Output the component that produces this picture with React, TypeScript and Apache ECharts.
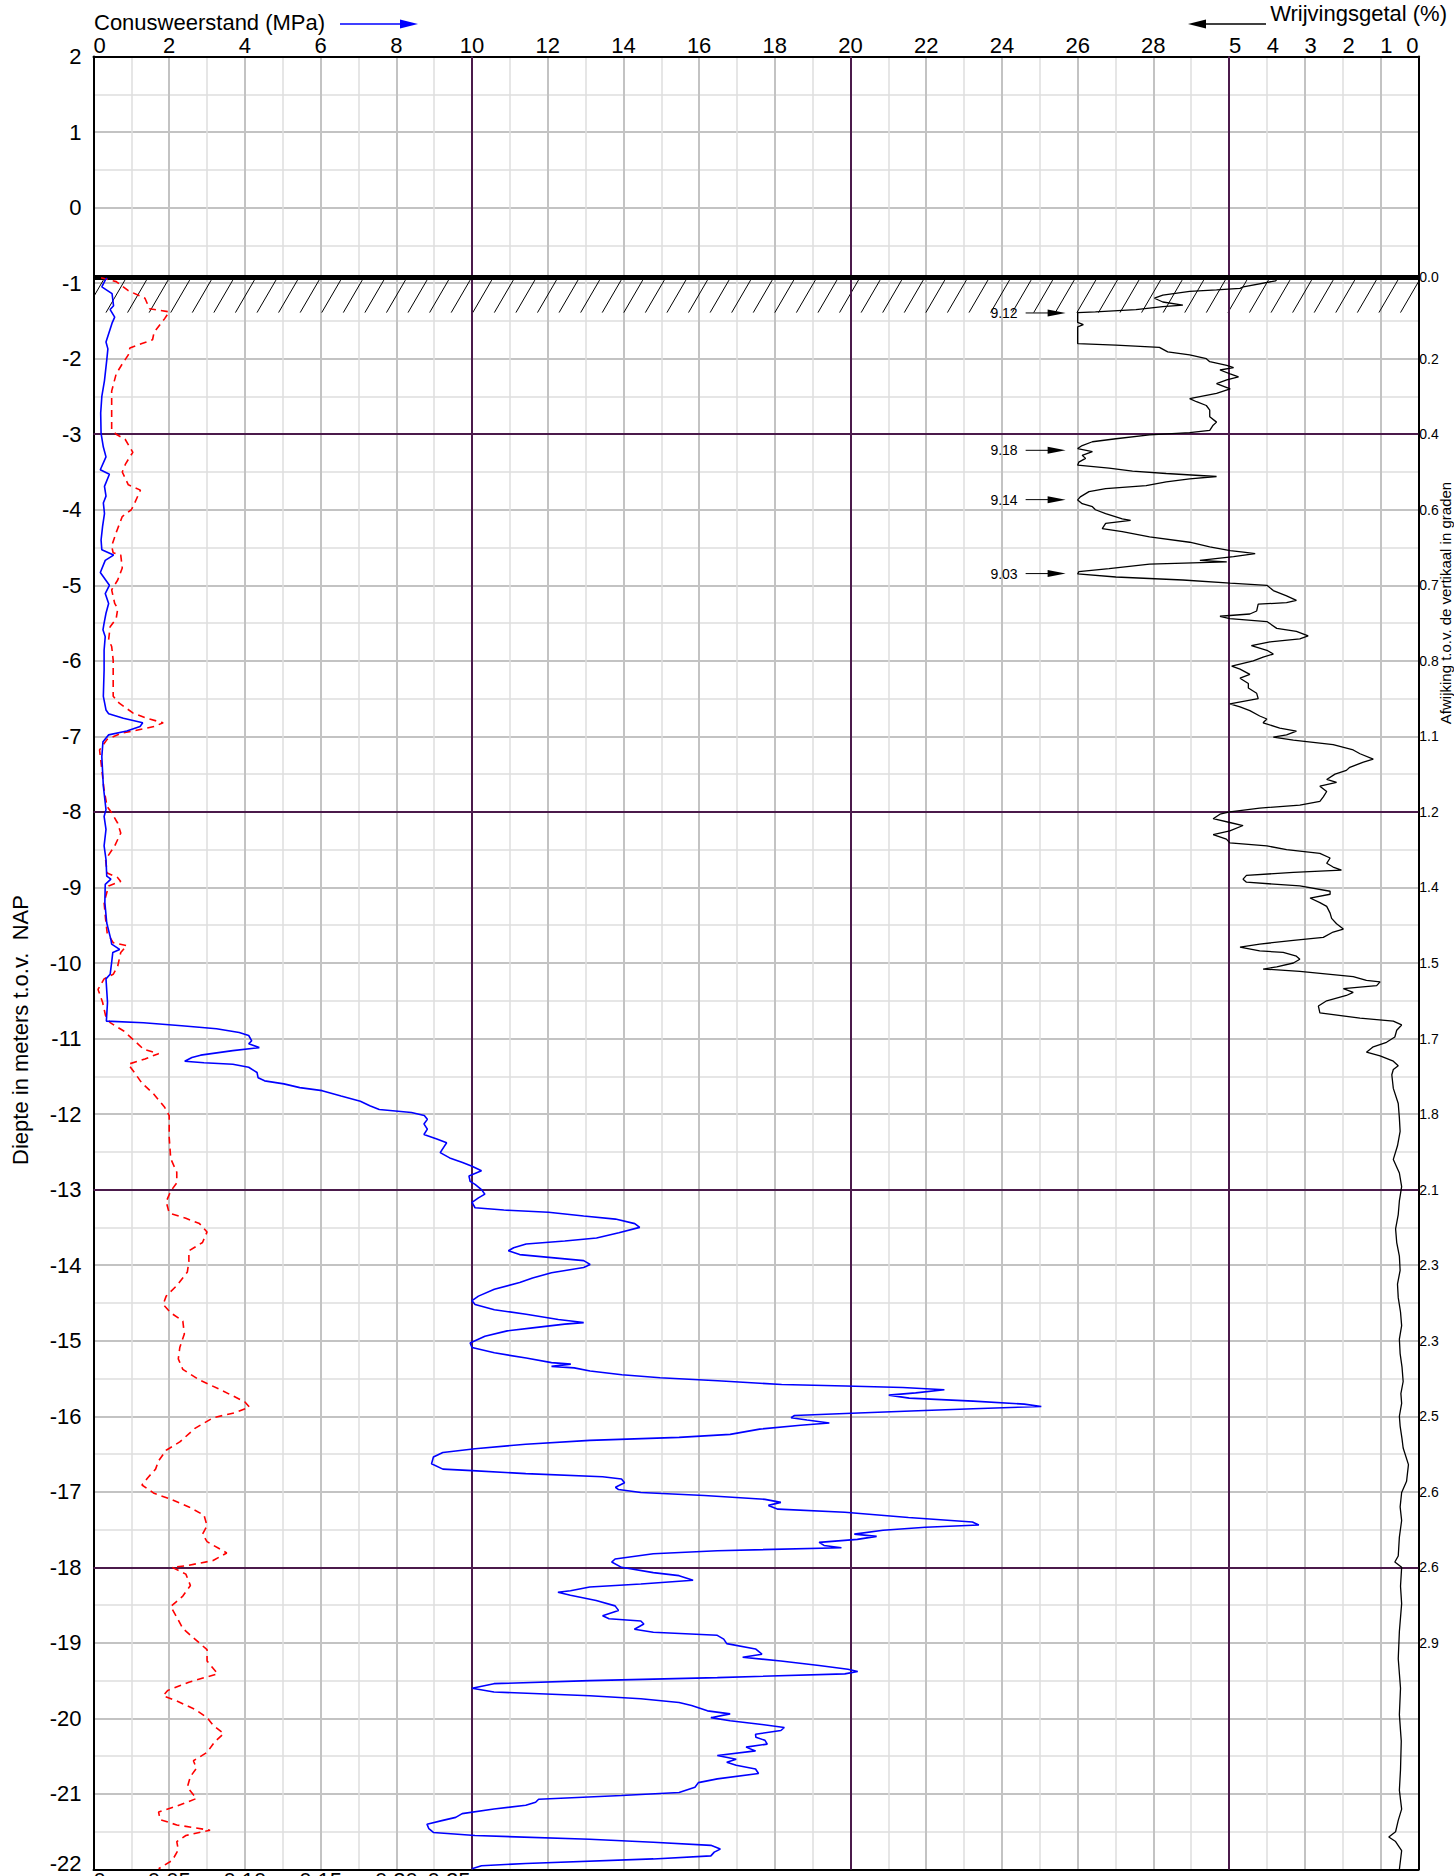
import React, { useEffect, useRef } from 'react';
import * as echarts from 'echarts';

const FONT = '"Liberation Sans", Arial, Helvetica, sans-serif';

// ---------- axis ticks / labels ----------
const coneTickLabels = [0, 2, 4, 6, 8, 10, 12, 14, 16, 18, 20, 22, 24, 26, 28];
const ratioTickLabels = [0, 1, 2, 3, 4, 5];
const sleeveTickLabels = [0, 0.05, 0.1, 0.15, 0.2, 0.25];
const inclinationDepths = [-0.92, -2, -3, -4, -5, -6, -7, -8, -9, -10, -11, -12, -13, -14, -15, -16, -17, -18, -19];
const inclinationLabels = ['0.0', '0.2', '0.4', '0.6', '0.7', '0.8', '1.1', '1.2', '1.4', '1.5', '1.7', '1.8', '2.1', '2.3', '2.3', '2.5', '2.6', '2.6', '2.9'];
const referenceDepths = [-3, -8, -13, -18];
const referenceCone = [10, 20, 30];
const groundLevel = -0.92;
const hatchTopDepth = -0.96;
const hatchBottomDepth = -1.39;
const RF_CLIP = 9;

// ---------- series: [depth (m NAP), value] ----------
const coneResistance: [number, number][] = [
  [-0.93, 0.35], [-0.96, 0.31], [-1.05, 0.22], [-1.14, 0.49], [-1.3, 0.53], [-1.35, 0.44], [-1.45, 0.56], [-1.53, 0.49],
  [-1.78, 0.33], [-1.87, 0.38], [-2.02, 0.35], [-2.29, 0.29], [-2.5, 0.22], [-2.72, 0.19], [-2.99, 0.2], [-3.17, 0.26],
  [-3.3, 0.33], [-3.47, 0.18], [-3.53, 0.42], [-3.69, 0.29], [-3.82, 0.33], [-3.91, 0.26], [-4.05, 0.29], [-4.22, 0.24],
  [-4.4, 0.2], [-4.53, 0.22], [-4.6, 0.53], [-4.67, 0.31], [-4.83, 0.18], [-4.95, 0.35], [-5.0, 0.42], [-5.11, 0.31],
  [-5.24, 0.4], [-5.37, 0.33], [-5.5, 0.28], [-5.59, 0.25], [-5.68, 0.31], [-5.86, 0.28], [-6.12, 0.28], [-6.47, 0.26],
  [-6.65, 0.33], [-6.7, 0.4], [-6.76, 0.79], [-6.82, 1.3], [-6.87, 1.23], [-6.93, 0.88], [-6.98, 0.4], [-7.07, 0.25],
  [-7.27, 0.22], [-7.66, 0.26], [-7.97, 0.33], [-8.06, 0.28], [-8.23, 0.33], [-8.45, 0.28], [-8.63, 0.33], [-8.85, 0.35],
  [-8.89, 0.46], [-8.96, 0.31], [-9.2, 0.3], [-9.47, 0.35], [-9.69, 0.46], [-9.75, 0.48], [-9.82, 0.69], [-9.86, 0.51],
  [-9.99, 0.48], [-10.15, 0.44], [-10.21, 0.33], [-10.52, 0.37], [-10.77, 0.34], [-10.79, 1.32], [-10.83, 2.33],
  [-10.87, 3.25], [-10.92, 3.85], [-10.96, 4.1], [-11.03, 4.18], [-11.07, 4.1], [-11.12, 4.38], [-11.16, 3.68],
  [-11.22, 2.83], [-11.25, 2.6], [-11.3, 2.41], [-11.32, 2.92], [-11.34, 3.68], [-11.38, 4.1], [-11.45, 4.32],
  [-11.52, 4.35], [-11.56, 4.52], [-11.6, 5.03], [-11.65, 5.45], [-11.69, 6.04], [-11.76, 6.54], [-11.83, 7.05],
  [-11.89, 7.3], [-11.94, 7.55], [-11.98, 8.4], [-12.02, 8.74], [-12.07, 8.82], [-12.13, 8.73], [-12.2, 8.82],
  [-12.27, 8.73], [-12.33, 9.07], [-12.38, 9.33], [-12.44, 9.25], [-12.51, 9.16], [-12.58, 9.41], [-12.64, 9.75],
  [-12.69, 10.0], [-12.75, 10.25], [-12.82, 9.92], [-12.89, 9.95], [-12.93, 10.08], [-13.0, 10.25], [-13.06, 10.34],
  [-13.11, 10.17], [-13.17, 10.0], [-13.24, 10.08], [-13.27, 10.84], [-13.3, 12.02], [-13.35, 12.95], [-13.39, 13.79],
  [-13.45, 14.3], [-13.5, 14.43], [-13.57, 13.88], [-13.64, 13.29], [-13.68, 12.45], [-13.72, 11.43], [-13.77, 11.1],
  [-13.81, 10.96], [-13.86, 11.26], [-13.9, 12.1], [-13.94, 12.95], [-13.99, 13.12], [-14.03, 12.95], [-14.1, 12.1],
  [-14.17, 11.6], [-14.23, 11.26], [-14.32, 10.59], [-14.41, 10.17], [-14.47, 10.0], [-14.52, 10.08], [-14.59, 10.59],
  [-14.65, 11.43], [-14.72, 12.28], [-14.76, 12.95], [-14.78, 12.45], [-14.83, 11.6], [-14.87, 10.93], [-14.94, 10.34],
  [-15.03, 9.95], [-15.09, 10.0], [-15.16, 10.59], [-15.23, 11.43], [-15.29, 12.1], [-15.31, 12.61], [-15.34, 12.1],
  [-15.36, 12.7], [-15.4, 13.12], [-15.45, 13.96], [-15.49, 14.97], [-15.53, 16.49], [-15.58, 18.18], [-15.6, 19.87],
  [-15.62, 21.38], [-15.65, 22.48], [-15.69, 21.72], [-15.72, 21.01], [-15.76, 21.55], [-15.8, 23.24], [-15.84, 24.59],
  [-15.87, 25.04], [-15.9, 23.24], [-15.93, 21.6], [-15.96, 20.03], [-15.99, 18.52], [-16.02, 18.43], [-16.05, 18.85],
  [-16.09, 19.44], [-16.12, 18.68], [-16.17, 17.6], [-16.24, 16.82], [-16.28, 15.47], [-16.32, 13.11], [-16.37, 11.42],
  [-16.43, 10.08], [-16.48, 9.23], [-16.54, 8.98], [-16.63, 8.93], [-16.7, 9.23], [-16.72, 10.0], [-16.76, 11.42],
  [-16.8, 13.45], [-16.83, 13.95], [-16.88, 14.03], [-16.94, 13.79], [-16.97, 13.87], [-17.01, 14.46], [-17.05, 16.14],
  [-17.1, 17.74], [-17.14, 18.16], [-17.18, 17.83], [-17.23, 18.08], [-17.27, 19.85], [-17.34, 21.53], [-17.4, 23.22],
  [-17.44, 23.39], [-17.47, 21.98], [-17.51, 20.86], [-17.56, 20.1], [-17.59, 20.69], [-17.63, 20.18], [-17.67, 19.17],
  [-17.71, 19.3], [-17.74, 19.76], [-17.78, 16.48], [-17.82, 14.79], [-17.89, 13.78], [-17.93, 13.69], [-18.0, 13.95],
  [-18.07, 14.79], [-18.11, 15.47], [-18.17, 15.84], [-18.22, 14.46], [-18.26, 13.11], [-18.31, 12.6], [-18.33, 12.27],
  [-18.37, 12.6], [-18.44, 13.28], [-18.51, 13.78], [-18.57, 13.87], [-18.64, 13.45], [-18.68, 13.62], [-18.71, 14.46],
  [-18.75, 14.54], [-18.82, 14.29], [-18.86, 14.79], [-18.9, 16.48], [-18.95, 16.65], [-19.01, 16.73], [-19.08, 17.49],
  [-19.15, 17.66], [-19.19, 17.15], [-19.24, 18.16], [-19.3, 19.17], [-19.35, 19.93], [-19.38, 20.19], [-19.41, 19.85],
  [-19.46, 16.48], [-19.5, 13.11], [-19.54, 10.58], [-19.6, 10.0], [-19.65, 10.58], [-19.7, 13.11], [-19.74, 14.46],
  [-19.79, 15.47], [-19.83, 15.8], [-19.9, 16.22], [-19.94, 16.82], [-19.99, 16.31], [-20.03, 16.82], [-20.07, 17.49],
  [-20.12, 18.25], [-20.16, 18.16], [-20.21, 17.49], [-20.25, 17.5], [-20.29, 17.74], [-20.34, 17.8], [-20.38, 17.24],
  [-20.43, 17.49], [-20.49, 16.48], [-20.54, 16.98], [-20.58, 16.73], [-20.62, 16.98], [-20.67, 17.49], [-20.73, 17.57],
  [-20.8, 16.48], [-20.85, 15.98], [-20.91, 15.89], [-20.98, 15.47], [-21.02, 13.95], [-21.07, 11.76], [-21.11, 11.68],
  [-21.15, 11.42], [-21.2, 10.58], [-21.26, 9.74], [-21.31, 9.57], [-21.35, 9.23], [-21.4, 8.81], [-21.46, 8.86],
  [-21.51, 8.98], [-21.55, 10.08], [-21.6, 13.11], [-21.64, 14.79], [-21.68, 16.31], [-21.73, 16.56], [-21.77, 16.4],
  [-21.82, 16.31], [-21.86, 14.79], [-21.92, 11.42], [-21.95, 10.25], [-21.99, 10.0],
];

// local sleeve friction (MPa)
const sleeveFriction: [number, number][] = [
  [-0.93, 0.005], [-0.98, 0.015], [-1.1, 0.023], [-1.2, 0.034], [-1.34, 0.037], [-1.38, 0.05], [-1.47, 0.047],
  [-1.65, 0.04], [-1.75, 0.039], [-1.8, 0.032], [-1.86, 0.024], [-1.95, 0.023], [-2.07, 0.019], [-2.2, 0.015],
  [-2.43, 0.012], [-2.7, 0.012], [-2.94, 0.012], [-3.0, 0.015], [-3.07, 0.021], [-3.24, 0.026], [-3.3, 0.024],
  [-3.4, 0.021], [-3.5, 0.019], [-3.67, 0.023], [-3.74, 0.031], [-3.92, 0.027], [-4.0, 0.025], [-4.09, 0.019],
  [-4.3, 0.015], [-4.48, 0.012], [-4.57, 0.013], [-4.6, 0.018], [-4.77, 0.019], [-4.93, 0.016], [-5.06, 0.012],
  [-5.24, 0.014], [-5.31, 0.016], [-5.44, 0.015], [-5.55, 0.011], [-5.72, 0.01], [-5.81, 0.012], [-5.99, 0.013],
  [-6.21, 0.013], [-6.47, 0.013], [-6.56, 0.017], [-6.69, 0.026], [-6.76, 0.035], [-6.82, 0.046], [-6.87, 0.04],
  [-6.9, 0.033], [-6.96, 0.018], [-7.04, 0.009], [-7.18, 0.004], [-7.35, 0.005], [-7.53, 0.006], [-7.71, 0.007],
  [-7.93, 0.009], [-8.01, 0.012], [-8.15, 0.016], [-8.28, 0.018], [-8.45, 0.014], [-8.63, 0.008], [-8.81, 0.009],
  [-8.87, 0.016], [-8.92, 0.018], [-8.98, 0.01], [-9.2, 0.007], [-9.42, 0.008], [-9.6, 0.009], [-9.73, 0.013],
  [-9.77, 0.022], [-9.86, 0.018], [-10.04, 0.016], [-10.15, 0.013], [-10.21, 0.007], [-10.35, 0.003], [-10.52, 0.006],
  [-10.7, 0.008], [-10.79, 0.011], [-10.9, 0.02], [-11.01, 0.026], [-11.14, 0.033], [-11.2, 0.043], [-11.27, 0.034],
  [-11.34, 0.023], [-11.45, 0.027], [-11.59, 0.032], [-11.74, 0.04], [-11.91, 0.047], [-12.02, 0.05], [-12.31, 0.05],
  [-12.59, 0.051], [-12.77, 0.055], [-12.91, 0.055], [-13.02, 0.051], [-13.16, 0.048], [-13.31, 0.05], [-13.38, 0.061],
  [-13.45, 0.07], [-13.56, 0.075], [-13.7, 0.072], [-13.81, 0.063], [-13.95, 0.063], [-14.09, 0.062], [-14.27, 0.055],
  [-14.41, 0.048], [-14.52, 0.046], [-14.63, 0.051], [-14.74, 0.059], [-14.91, 0.06], [-15.09, 0.057], [-15.24, 0.056],
  [-15.38, 0.059], [-15.52, 0.07], [-15.66, 0.085], [-15.81, 0.1], [-15.88, 0.103], [-15.95, 0.094], [-16.02, 0.079],
  [-16.16, 0.067], [-16.34, 0.057], [-16.45, 0.048], [-16.59, 0.043], [-16.7, 0.041], [-16.81, 0.036], [-16.91, 0.032],
  [-17.02, 0.04], [-17.09, 0.05], [-17.2, 0.063], [-17.31, 0.073], [-17.45, 0.075], [-17.56, 0.072], [-17.66, 0.075],
  [-17.81, 0.088], [-17.91, 0.079], [-17.98, 0.061], [-18.0, 0.052], [-18.09, 0.061], [-18.24, 0.064], [-18.38, 0.059],
  [-18.52, 0.051], [-18.66, 0.055], [-18.81, 0.059], [-18.95, 0.067], [-19.09, 0.075], [-19.24, 0.075], [-19.41, 0.082],
  [-19.52, 0.063], [-19.63, 0.049], [-19.7, 0.046], [-19.77, 0.055], [-19.88, 0.067], [-19.99, 0.075], [-20.09, 0.079],
  [-20.2, 0.086], [-20.31, 0.08], [-20.45, 0.075], [-20.56, 0.066], [-20.66, 0.068], [-20.77, 0.064], [-20.91, 0.062],
  [-21.06, 0.068], [-21.16, 0.055], [-21.24, 0.043], [-21.34, 0.044], [-21.41, 0.055], [-21.48, 0.077], [-21.55, 0.061],
  [-21.63, 0.055], [-21.74, 0.056], [-21.88, 0.052], [-21.99, 0.043],
];

// friction ratio (%), plotted values clipped at 9 %
const frictionRatio: [number, number][] = [
  [-0.92, 0], [-0.93, 3.7], [-0.97, 3.77], [-1.05, 4.62], [-1.07, 4.71], [-1.09, 5.33], [-1.11, 6.04], [-1.16, 6.75],
  [-1.2, 6.97], [-1.25, 6.75], [-1.29, 6.22], [-1.31, 6.75], [-1.35, 7.46], [-1.38, 8.53], [-1.39, 9.0], [-1.52, 9.0],
  [-1.55, 8.85], [-1.58, 9.0], [-1.8, 9.0], [-1.82, 7.99], [-1.85, 6.84], [-1.91, 6.62], [-1.95, 6.04], [-2.0, 5.6],
  [-2.04, 5.51], [-2.09, 5.06], [-2.12, 4.88], [-2.15, 5.24], [-2.2, 4.97], [-2.24, 4.75], [-2.28, 5.06], [-2.33, 5.33],
  [-2.4, 4.97], [-2.46, 5.33], [-2.53, 6.04], [-2.57, 5.86], [-2.62, 5.6], [-2.68, 5.51], [-2.77, 5.51], [-2.84, 5.33],
  [-2.88, 5.42], [-2.95, 5.51], [-2.98, 6.04], [-3.01, 7.1], [-3.06, 7.99], [-3.1, 8.61], [-3.15, 8.88], [-3.19, 9.0],
  [-3.23, 8.61], [-3.28, 8.88], [-3.32, 8.79], [-3.37, 8.97], [-3.41, 9.0], [-3.45, 8.17], [-3.49, 7.55], [-3.52, 6.66],
  [-3.56, 5.33], [-3.59, 6.04], [-3.63, 6.66], [-3.68, 7.19], [-3.72, 8.26], [-3.76, 8.7], [-3.83, 8.93], [-3.87, 9.0],
  [-3.92, 8.88], [-3.96, 8.61], [-4.0, 8.53], [-4.05, 8.26], [-4.12, 7.82], [-4.14, 7.6], [-4.18, 8.26], [-4.25, 8.35],
  [-4.29, 7.82], [-4.36, 7.1], [-4.43, 6.04], [-4.49, 5.51], [-4.54, 4.97], [-4.56, 4.62], [-4.58, 4.31], [-4.62, 4.88],
  [-4.67, 5.77], [-4.69, 5.06], [-4.72, 7.1], [-4.78, 8.17], [-4.82, 8.97], [-4.85, 9.0], [-4.89, 7.99], [-4.93, 6.22],
  [-4.97, 4.97], [-5.0, 4.0], [-5.07, 3.83], [-5.14, 3.48], [-5.2, 3.22], [-5.23, 3.48], [-5.25, 4.23], [-5.34, 4.27],
  [-5.38, 4.45], [-5.41, 5.24], [-5.44, 4.98], [-5.48, 4.0], [-5.57, 3.74], [-5.61, 3.22], [-5.67, 2.91], [-5.71, 3.13],
  [-5.75, 3.92], [-5.8, 4.41], [-5.86, 4.0], [-5.91, 3.83], [-5.95, 4.1], [-6.0, 4.36], [-6.07, 4.93], [-6.11, 4.71],
  [-6.18, 4.45], [-6.23, 4.71], [-6.3, 4.49], [-6.36, 4.49], [-6.43, 4.27], [-6.5, 4.23], [-6.57, 4.98], [-6.61, 4.71],
  [-6.66, 4.45], [-6.73, 4.19], [-6.77, 4.0], [-6.82, 4.1], [-6.89, 3.66], [-6.93, 3.22], [-6.98, 3.48], [-7.01, 3.83],
  [-7.05, 3.3], [-7.11, 2.25], [-7.18, 1.72], [-7.23, 1.54], [-7.3, 1.19], [-7.34, 1.45], [-7.41, 1.81], [-7.45, 1.9],
  [-7.5, 2.2], [-7.57, 2.42], [-7.61, 2.16], [-7.66, 2.6], [-7.73, 2.42], [-7.8, 2.51], [-7.86, 2.6], [-7.91, 3.13],
  [-7.95, 4.19], [-8.0, 4.98], [-8.03, 5.24], [-8.09, 5.42], [-8.14, 4.98], [-8.18, 4.63], [-8.25, 4.98], [-8.3, 5.42],
  [-8.36, 5.07], [-8.41, 4.98], [-8.45, 4.0], [-8.5, 3.48], [-8.55, 2.6], [-8.61, 2.33], [-8.68, 2.42], [-8.73, 2.25],
  [-8.77, 2.03], [-8.8, 3.3], [-8.84, 4.54], [-8.89, 4.63], [-8.93, 4.54], [-8.98, 3.13], [-9.05, 2.33], [-9.09, 2.33],
  [-9.14, 2.86], [-9.2, 2.6], [-9.25, 2.42], [-9.34, 2.33], [-9.41, 2.29], [-9.48, 2.16], [-9.55, 1.98], [-9.59, 2.25],
  [-9.66, 2.51], [-9.7, 3.3], [-9.75, 4.19], [-9.79, 4.71], [-9.84, 4.19], [-9.86, 3.57], [-9.91, 3.22], [-9.95, 3.13],
  [-10.0, 3.3], [-10.05, 3.74], [-10.08, 4.1], [-10.11, 3.13], [-10.18, 1.72], [-10.23, 1.37], [-10.25, 1.01],
  [-10.3, 1.1], [-10.34, 1.98], [-10.39, 1.72], [-10.43, 1.9], [-10.5, 2.42], [-10.57, 2.64], [-10.66, 2.6],
  [-10.73, 1.54], [-10.77, 0.66], [-10.82, 0.44], [-10.89, 0.57], [-10.98, 0.62], [-11.05, 0.84], [-11.11, 1.19],
  [-11.18, 1.37], [-11.23, 1.01], [-11.3, 0.66], [-11.36, 0.53], [-11.41, 0.66], [-11.48, 0.7], [-11.66, 0.66],
  [-11.86, 0.53], [-12.05, 0.5], [-12.23, 0.48], [-12.42, 0.55], [-12.6, 0.66], [-12.78, 0.5], [-12.96, 0.44],
  [-13.15, 0.5], [-13.33, 0.53], [-13.52, 0.6], [-13.7, 0.57], [-13.88, 0.5], [-14.07, 0.48], [-14.25, 0.55],
  [-14.43, 0.53], [-14.62, 0.47], [-14.8, 0.44], [-14.98, 0.5], [-15.17, 0.48], [-15.35, 0.43], [-15.54, 0.4],
  [-15.7, 0.46], [-15.83, 0.44], [-16.0, 0.5], [-16.13, 0.48], [-16.3, 0.43], [-16.42, 0.4], [-16.64, 0.26],
  [-16.86, 0.31], [-17.01, 0.44], [-17.2, 0.48], [-17.38, 0.44], [-17.6, 0.5], [-17.85, 0.53], [-17.93, 0.62],
  [-18.0, 0.44], [-18.25, 0.47], [-18.48, 0.44], [-18.85, 0.5], [-19.21, 0.53], [-19.6, 0.47], [-19.95, 0.5],
  [-20.3, 0.45], [-20.68, 0.47], [-20.95, 0.5], [-21.2, 0.44], [-21.35, 0.53], [-21.5, 0.6], [-21.57, 0.78],
  [-21.63, 0.6], [-21.75, 0.44], [-22.0, 0.5],
];

// off-scale friction ratio peaks: [depth, actual value %]
const offScalePeaks: [number, number][] = [
  [-1.395, 9.12], [-3.213, 9.18], [-3.866, 9.14], [-4.845, 9.03],
];

const PURPLE = '#4b1a4b';
const DARK = '#c3c3c3';
const LIGHT = '#dedede';

function clipSeg(ax: number, ay: number, bx: number, by: number, xmin: number, xmax: number) {
  if (bx <= xmin || ax >= xmax) return null;
  let x1 = ax, y1 = ay, x2 = bx, y2 = by;
  if (x1 < xmin) { const t = (xmin - ax) / (bx - ax); x1 = xmin; y1 = ay + (by - ay) * t; }
  if (x2 > xmax) { const t = (xmax - ax) / (bx - ax); x2 = xmax; y2 = ay + (by - ay) * t; }
  return { x1, y1, x2, y2 };
}

function buildOption(): any {
  const textBase = { fontFamily: FONT, color: '#000' };
  return {
    animation: false,
    backgroundColor: '#ffffff',
    grid: { left: 93.5, right: 35.7, top: 56.5, bottom: 6.5, containLabel: false, outerBoundsMode: 'none' },
    xAxis: [
      {
        type: 'value', position: 'top', min: 0, max: 35, interval: 1,
        axisLine: { show: true, onZero: false, lineStyle: { color: '#000', width: 2 } },
        axisTick: { show: false },
        axisLabel: {
          ...textBase, fontSize: 22, margin: 0, customValues: coneTickLabels,
          alignMinLabel: 'left',
        },
        splitLine: { show: true, lineStyle: { color: ['rgba(0,0,0,0)', LIGHT], width: 1.5 } },
      },
      {
        type: 'value', position: 'bottom', min: 0, max: 0.875, interval: 0.05,
        axisLine: { show: true, onZero: false, lineStyle: { color: '#000', width: 2 } },
        axisTick: { show: false },
        axisLabel: {
          ...textBase, fontSize: 22, margin: 0, customValues: sleeveTickLabels,
          alignMinLabel: 'left',
          formatter: (v: number) => {
            if (v === 0) return '0';
            if (Math.abs(v - 0.25) < 1e-9) return '{s|0.25}';
            return v.toFixed(2);
          },
          rich: { s: { fontSize: 22, fontFamily: FONT, color: '#000', padding: [0, 46, 0, 0] } },
        },
        splitLine: { show: true, lineStyle: { color: DARK, width: 2 } },
      },
      {
        type: 'value', position: 'top', min: 0, max: 35, inverse: true,
        axisLine: { show: false, onZero: false },
        axisTick: { show: false },
        axisLabel: {
          ...textBase, fontSize: 22, margin: 0, customValues: ratioTickLabels,
          padding: [0, 0, 0, 12],
          formatter: (v: number) => (v === 0 ? '{z|0}' : String(v)),
          rich: { z: { fontSize: 22, fontFamily: FONT, color: '#000', padding: [0, 24, 0, 0] } },
        },
        splitLine: { show: false },
      },
    ],
    yAxis: [
      {
        type: 'value', position: 'left', min: -22, max: 2, interval: 1,
        axisLine: { show: true, onZero: false, lineStyle: { color: '#000', width: 2 } },
        axisTick: { show: false },
        axisLabel: {
          ...textBase, fontSize: 22, margin: 12,
          formatter: (v: number) => (v === -22 ? '{b|-22}' : String(v)),
          rich: { b: { fontSize: 22, fontFamily: FONT, color: '#000', padding: [0, 0, 12, 0] } },
        },
        splitLine: { show: true, lineStyle: { color: DARK, width: 2 } },
        minorTick: { show: false, splitNumber: 2 },
        minorSplitLine: { show: true, lineStyle: { color: LIGHT, width: 1.5 } },
      },
      {
        type: 'value', position: 'right', min: -22, max: 2, interval: 1,
        axisLine: { show: true, onZero: false, lineStyle: { color: '#000', width: 2 } },
        axisTick: { show: false },
        splitLine: { show: false },
        axisLabel: {
          ...textBase, fontSize: 14, margin: 1, customValues: inclinationDepths,
          padding: [0, 0, 8, 0],
          formatter: (v: number) => {
            const i = inclinationDepths.findIndex((d) => Math.abs(d - v) < 1e-6);
            return i >= 0 ? inclinationLabels[i] : '';
          },
        },
      },
    ],
    graphic: [
      {
        type: 'text', x: 94, y: 22, silent: true,
        style: { text: 'Conusweerstand (MPa)', fontSize: 22, fontFamily: FONT, fill: '#000', align: 'left', verticalAlign: 'middle', textAlign: 'left', textVerticalAlign: 'middle' },
      },
      { type: 'line', silent: true, shape: { x1: 340, y1: 24, x2: 402, y2: 24 }, style: { stroke: '#0000ff', lineWidth: 1.5 } },
      { type: 'polygon', silent: true, shape: { points: [[400, 19.5], [418, 24], [400, 28.5]] }, style: { fill: '#0000ff' } },
      {
        type: 'text', x: 1447, y: 13, silent: true,
        style: { text: 'Wrijvingsgetal (%)', fontSize: 22, fontFamily: FONT, fill: '#000', align: 'right', verticalAlign: 'middle', textAlign: 'right', textVerticalAlign: 'middle' },
      },
      { type: 'line', silent: true, shape: { x1: 1204, y1: 24, x2: 1266, y2: 24 }, style: { stroke: '#000', lineWidth: 1.5 } },
      { type: 'polygon', silent: true, shape: { points: [[1206, 19.5], [1188, 24], [1206, 28.5]] }, style: { fill: '#000' } },
      {
        type: 'text', x: 20, y: 1030, rotation: Math.PI / 2, silent: true,
        style: { text: 'Diepte in meters t.o.v.  NAP', fontSize: 22, fontFamily: FONT, fill: '#000', align: 'center', verticalAlign: 'middle', textAlign: 'center', textVerticalAlign: 'middle' },
      },
      {
        type: 'text', x: 1445, y: 603, rotation: Math.PI / 2, silent: true,
        style: { text: 'Afwijking t.o.v. de vertikaal in graden', fontSize: 15, fontFamily: FONT, fill: '#000', align: 'center', verticalAlign: 'middle', textAlign: 'center', textVerticalAlign: 'middle' },
      },
    ],
    series: [
      {
        type: 'custom', name: 'maaiveld', xAxisIndex: 0, yAxisIndex: 0, z: 1, silent: true, clip: false,
        data: [[0, groundLevel]],
        renderItem: (params: any, api: any) => {
          const cs = params.coordSys;
          const x0 = cs.x, x1 = cs.x + cs.width;
          const yTop = api.coord([0, hatchTopDepth])[1];
          const yBot = api.coord([0, hatchBottomDepth])[1];
          const step = api.size([0.57, 0])[0];
          const lean = api.size([0.5, 0])[0];
          const start = api.coord([0.33, 0])[0];
          const children: any[] = [];
          for (let xb = start - step; xb < x1; xb += step) {
            const s = clipSeg(xb, yBot, xb + lean, yTop, x0, x1);
            if (!s) continue;
            children.push({ type: 'line', shape: s, style: { stroke: '#000', lineWidth: 1 } });
          }
          return { type: 'group', children };
        },
        markLine: {
          silent: true, symbol: ['none', 'none'], label: { show: false }, animation: false,
          data: [
            ...referenceDepths.map((d) => ({ yAxis: d, lineStyle: { color: PURPLE, width: 2, type: 'solid' } })),
            ...referenceCone.map((x) => ({ xAxis: x, lineStyle: { color: PURPLE, width: 2, type: 'solid' } })),
            { yAxis: groundLevel, lineStyle: { color: '#000', width: 5, type: 'solid' } },
          ],
        },
      },
      {
        type: 'line', name: 'Wrijvingsgetal', xAxisIndex: 2, yAxisIndex: 0, z: 5,
        symbol: 'none', silent: true,
        data: frictionRatio.map(([d, v]) => [Math.min(v, RF_CLIP), d]),
        lineStyle: { color: '#000', width: 1.3 },
      },
      {
        type: 'line', name: 'Plaatselijke kleef', xAxisIndex: 1, yAxisIndex: 0, z: 5,
        symbol: 'none', silent: true,
        data: sleeveFriction.map(([d, v]) => [v, d]),
        lineStyle: { color: '#ff0000', width: 1.6, type: [7, 5] },
      },
      {
        type: 'line', name: 'Conusweerstand', xAxisIndex: 0, yAxisIndex: 0, z: 6,
        symbol: 'none', silent: true,
        data: coneResistance.map(([d, v]) => [v, d]),
        lineStyle: { color: '#0000ff', width: 1.6 },
      },
      {
        type: 'custom', name: 'buiten schaal', xAxisIndex: 2, yAxisIndex: 0, z: 6, silent: true, clip: false,
        data: offScalePeaks.map(([d, v]) => [Math.min(v, RF_CLIP), d, v]),
        renderItem: (params: any, api: any) => {
          const p = api.coord([api.value(0), api.value(1)]);
          const tip = p[0] - 12;
          const y = p[1];
          return {
            type: 'group',
            children: [
              { type: 'line', shape: { x1: tip - 40, y1: y, x2: tip - 16, y2: y }, style: { stroke: '#000', lineWidth: 1 } },
              { type: 'polygon', shape: { points: [[tip, y], [tip - 18, y - 3.5], [tip - 18, y + 3.5]] }, style: { fill: '#000' } },
              {
                type: 'text', x: tip - 48, y,
                style: { text: Number(api.value(2)).toFixed(2), fontSize: 14, fontFamily: FONT, fill: '#000', align: 'right', verticalAlign: 'middle', textAlign: 'right', textVerticalAlign: 'middle' },
              },
            ],
          };
        },
      },
    ],
  };
}

export default function App() {
  const ref = useRef<HTMLDivElement>(null);
  useEffect(() => {
    if (!ref.current) return;
    const chart = echarts.init(ref.current, null, { renderer: 'svg' });
    chart.setOption(buildOption());
    return () => chart.dispose();
  }, []);
  return (
    <div
      ref={ref}
      style={{ position: 'fixed', left: 0, top: 0, width: 1454, height: 1876, background: '#ffffff', overflow: 'hidden' }}
    />
  );
}
